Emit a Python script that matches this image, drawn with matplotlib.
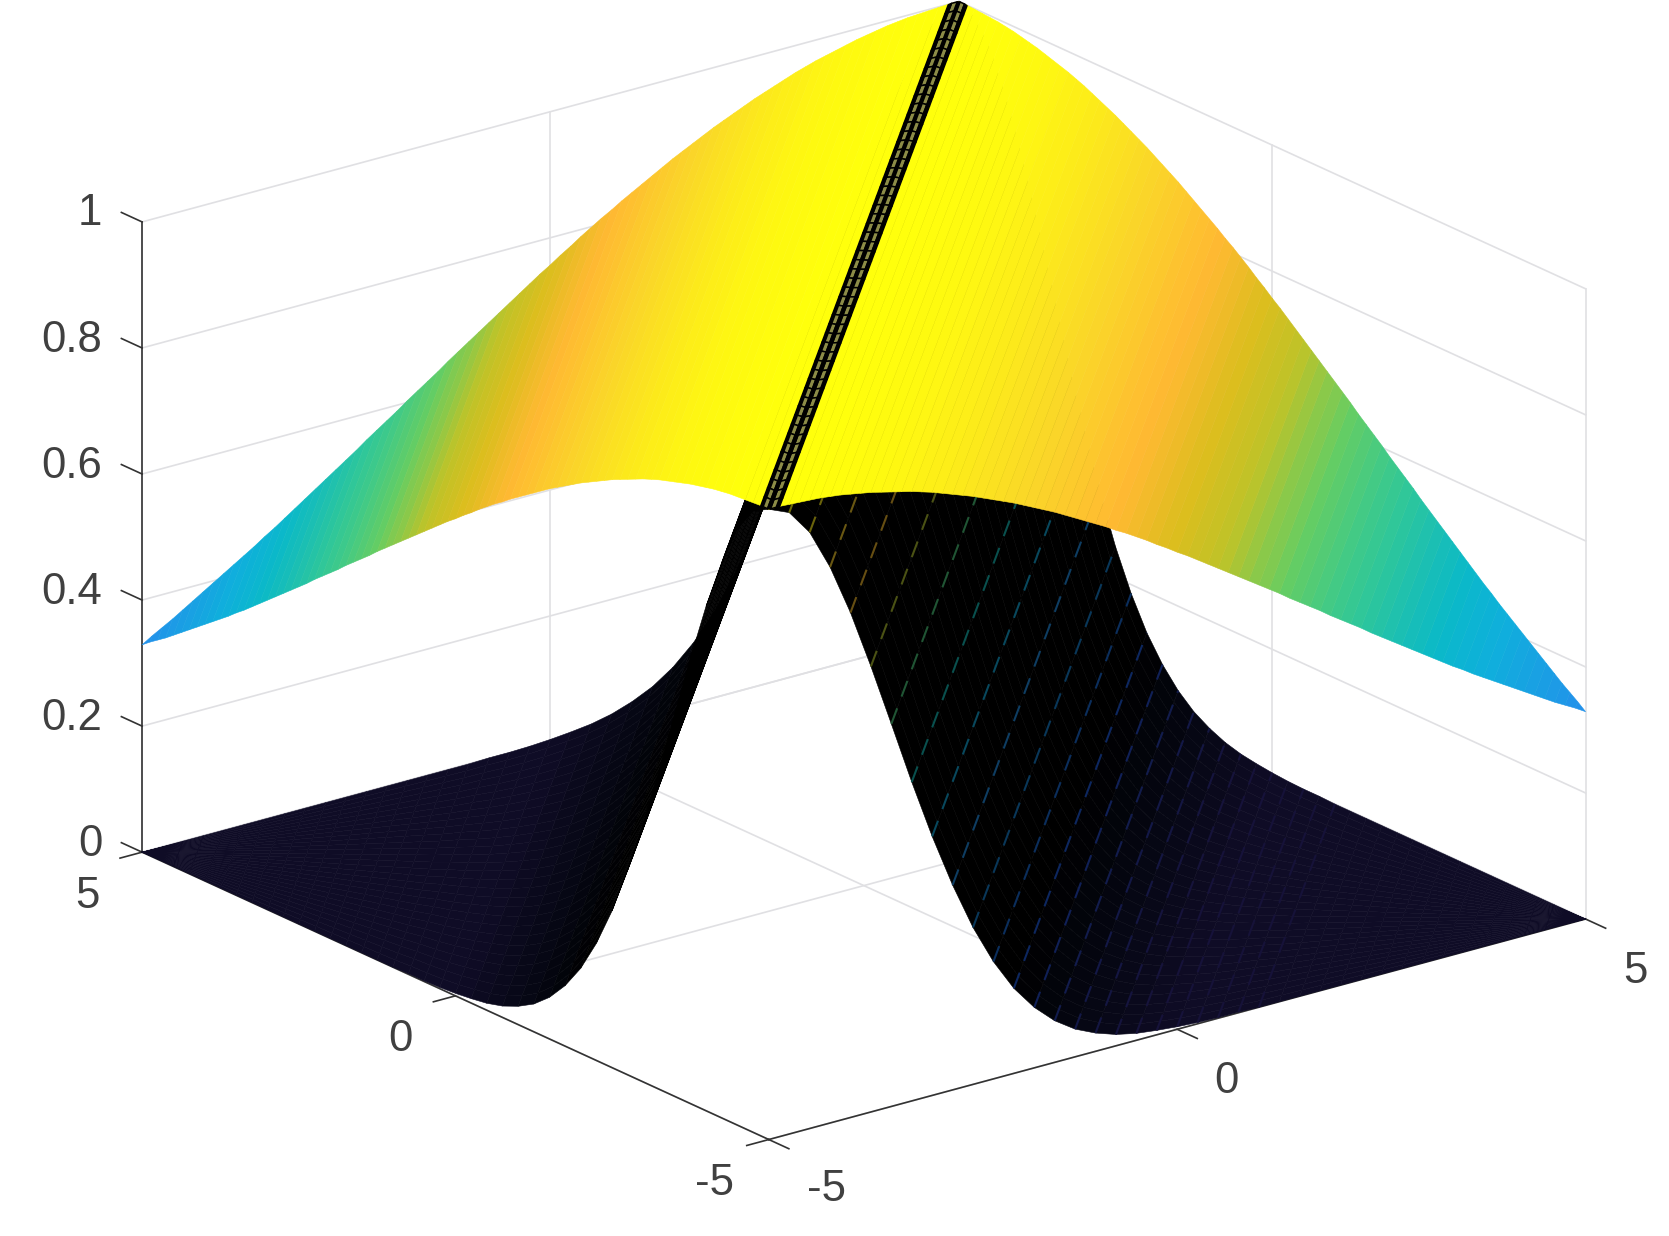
import matplotlib
matplotlib.use("Agg")
import matplotlib.pyplot as plt
from matplotlib.colors import LinearSegmentedColormap
from mpl_toolkits.mplot3d import proj3d
import numpy as np

# distance from the ridge (x - y) and the two sheet heights read along it
wide_dist = np.arange(0, 10.125, 0.125)
z_wide = [1.000, 1.000, 0.999, 0.998, 0.997, 0.996, 0.994, 0.992, 0.989, 0.986,
          0.983, 0.979, 0.975, 0.971, 0.967, 0.962, 0.957, 0.951, 0.945, 0.939,
          0.933, 0.926, 0.919, 0.912, 0.905, 0.897, 0.889, 0.881, 0.873, 0.864,
          0.855, 0.846, 0.837, 0.828, 0.818, 0.809, 0.799, 0.789, 0.778, 0.768,
          0.757, 0.747, 0.736, 0.725, 0.714, 0.703, 0.692, 0.681, 0.670, 0.659,
          0.648, 0.636, 0.625, 0.614, 0.603, 0.591, 0.580, 0.569, 0.558, 0.546,
          0.535, 0.524, 0.513, 0.502, 0.491, 0.480, 0.469, 0.458, 0.448, 0.437,
          0.427, 0.417, 0.407, 0.397, 0.387, 0.377, 0.367, 0.357, 0.348, 0.339,
          0.329]
narrow_dist = np.arange(0, 10.25, 0.25)
z_narrow = [1.000, 0.986, 0.946, 0.882, 0.801, 0.707, 0.607, 0.506, 0.411, 0.325,
            0.249, 0.186, 0.135, 0.096, 0.066, 0.044, 0.029, 0.018, 0.011, 0.007,
            0.004, 0.002, 0.001, 0.001, 0.000, 0.000, 0.000, 0.000, 0.000, 0.000,
            0.000, 0.000, 0.000, 0.000, 0.000, 0.000, 0.000, 0.000, 0.000, 0.000,
            0.000]

# black strip along the ridge
strip_dist = [-0.13, -0.09, -0.02, 0.02, 0.09, 0.13]
strip_z = [0.999, 1.000, 1.000, 1.000, 1.000, 0.999]

x_ticks = [-5, 0, 5]
y_ticks = [-5, 0, 5]
z_ticks = [0, 0.2, 0.4, 0.6, 0.8, 1]
x_labels = ["-5", "0", "5"]
y_labels = ["-5", "0", "5"]
z_labels = ["0", "0.2", "0.4", "0.6", "0.8", "1"]

stops = [
    (0.00, (53, 42, 135)),
    (0.12, (33, 87, 227)),
    (0.25, (20, 133, 212)),
    (0.33, (35, 145, 235)),
    (0.427, (15, 175, 220)),
    (0.48, (10, 185, 200)),
    (0.57, (50, 200, 150)),
    (0.645, (100, 205, 100)),
    (0.714, (190, 195, 40)),
    (0.765, (220, 190, 30)),
    (0.825, (255, 185, 50)),
    (0.90, (250, 215, 40)),
    (1.00, (255, 255, 12)),
]
parula = LinearSegmentedColormap.from_list(
    "parula", [(v, tuple(c / 255 for c in rgb)) for v, rgb in stops])

GRID = (0.88, 0.88, 0.89)
AXIS = (0.2, 0.2, 0.2)
TEXT = (0.25, 0.25, 0.25)


def mirrored(dist, z):
    dist = np.asarray(dist)
    z = np.asarray(z)
    return np.concatenate([-dist[::-1], dist[1:]]), np.concatenate([z[::-1], z[1:]])


def sheet_grid(dist, z, n_along):
    # cells run along the ridge, one row per distance
    s = np.linspace(0, 1, n_along)
    lo = np.maximum(-5, dist - 5)
    hi = np.minimum(5, dist + 5)
    X = lo[:, None] + (hi - lo)[:, None] * s
    Y = X - dist[:, None]
    Z = np.repeat(np.asarray(z)[:, None], n_along, axis=1)
    return X, Y, Z


def narrow_colors(dist, z):
    # dense black mesh nearly hides the colour of this sheet
    mid = 0.5 * (z[:-1] + z[1:])
    dm = 0.5 * (dist[:-1] + dist[1:])
    rgba = parula(mid)
    f = 0.28 * np.clip((np.abs(dm) - 3.0) / 2.0, 0, 1)
    rgba[:, :3] *= f[:, None]
    return rgba


fig = plt.figure(figsize=(16.69, 12.36), dpi=100)
S = 2000
ax = fig.add_axes([-163.2 / 1669, -361.5 / 1236, S / 1669, S / 1236],
                  projection="3d", proj_type="ortho", computed_zorder=False)
ax.view_init(elev=20.6, azim=-127.5)
ax.set_box_aspect((1, 1, 0.654), zoom=0.7786)
ax.set_axis_off()
ax.set_xlim(-5, 5, view_margin=0)
ax.set_ylim(-5, 5, view_margin=0)
ax.set_zlim(0, 1, view_margin=0)
ax.autoscale(False)

# grid on floor and the two back walls
for v in x_ticks:
    ax.plot([v, v], [-5, 5], [0, 0], color=GRID, lw=1.2, zorder=1)
    ax.plot([v, v], [5, 5], [0, 1], color=GRID, lw=1.2, zorder=1)
for v in y_ticks:
    ax.plot([-5, 5], [v, v], [0, 0], color=GRID, lw=1.2, zorder=1)
    ax.plot([5, 5], [v, v], [0, 1], color=GRID, lw=1.2, zorder=1)
for v in z_ticks:
    ax.plot([-5, 5], [5, 5], [v, v], color=GRID, lw=1.2, zorder=1)
    ax.plot([5, 5], [-5, 5], [v, v], color=GRID, lw=1.2, zorder=1)

# axis lines and ticks
ax.plot([-5, 5], [-5, -5], [0, 0], color=AXIS, lw=1.2, zorder=1.5)
ax.plot([-5, -5], [-5, 5], [0, 0], color=AXIS, lw=1.2, zorder=1.5)
ax.plot([-5, -5], [5, 5], [0, 1], color=AXIS, lw=1.2, zorder=1.5)
for v in x_ticks:
    ax.plot([v, v], [-5, -5.32], [0, 0], color=AXIS, lw=1.2, zorder=1.5)
for v in y_ticks:
    ax.plot([-5, -5.27], [v, v], [0, 0], color=AXIS, lw=1.2, zorder=1.5)
for v in z_ticks:
    ax.plot([-5, -5], [5, 5.33], [v, v], color=AXIS, lw=1.2, zorder=1.5)

# lower sheet first, the upper one always covers it from this view
dist, z = mirrored(narrow_dist, z_narrow)
X, Y, Z = sheet_grid(dist, z, 30)
cols = narrow_colors(dist, z)
ax.plot_surface(X, Y, Z, facecolors=np.repeat(cols[:, None, :], 29, axis=1),
                rstride=1, cstride=1, shade=False, linewidth=0.4, zorder=2)

# broken coloured streaks left between the mesh lines on the right flank
for i in range(len(dist)):
    if 0 <= dist[i] <= 6:
        c = np.array(parula(Z[i, 0]))
        c[:3] *= 0.42
        ax.plot(X[i], Y[i], Z[i], color=c, lw=1.5, zorder=2.5, dashes=(8, 6))

dist, z = mirrored(wide_dist, z_wide)
X, Y, Z = sheet_grid(dist, z, 2)
cols = parula(0.5 * (z[:-1] + z[1:]))
ax.plot_surface(X, Y, Z, facecolors=cols[:, None, :],
                rstride=1, cstride=1, shade=False, linewidth=0.4, zorder=3)

X, Y, Z = sheet_grid(np.array(strip_dist), strip_z, 56)
strip_cols = np.zeros((5, 55, 4))
strip_cols[..., 3] = 1
strip_cols[1] = (0.55, 0.55, 0.28, 1)
strip_cols[3] = (0.55, 0.55, 0.28, 1)
strip = ax.plot_surface(X, Y, Z, facecolors=strip_cols, rstride=1, cstride=1,
                        shade=False, linewidth=1.1, zorder=4)
strip.set_edgecolor("black")

# tick labels, placed through the 3d projection
M = ax.get_proj()


def label(x, y, z, text, ha="center"):
    px, py, _ = proj3d.proj_transform(x, y, z, M)
    ax.text2D(px, py, text, family=["Liberation Sans", "DejaVu Sans"], fontsize=31.5,
              color=TEXT, ha=ha, va="center", transform=ax.transData)


for v, lab in zip(x_ticks, x_labels):
    label(v - 0.50 + (0.1 if v < 0 else 0), -6.44, 0, lab)
for v, lab in zip(y_ticks, y_labels):
    label(-6.16, v - 0.64, 0, lab)
for v, lab in zip(z_ticks, z_labels):
    label(-5.14, 5.45, v - 0.003, lab, ha="right")

fig.savefig("out.png", dpi=100)
